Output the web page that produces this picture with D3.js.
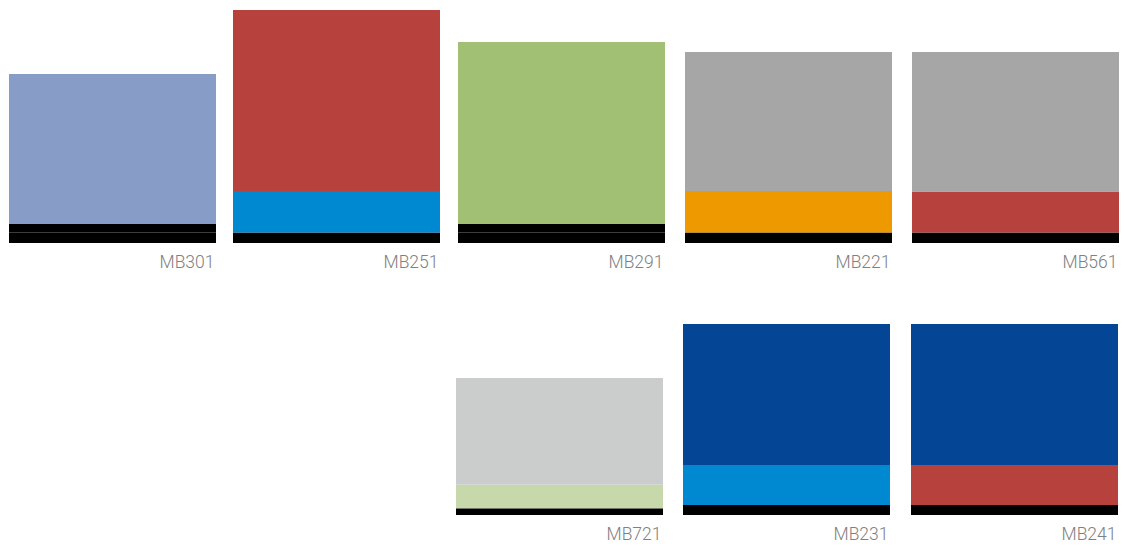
<!DOCTYPE html>
<html>
<head>
<meta charset="utf-8">
<script src="https://cdn.jsdelivr.net/npm/d3@7"></script>
<style>
  html, body { margin: 0; padding: 0; background: #fff; }
  .label { font-family: Roboto, "Noto Sans", sans-serif; font-weight: 300; font-size: 17.5px; fill: #808080; }
</style>
</head>
<body>
<div class="chart"></div>
<script>
// data
var products = ["MB301", "MB251", "MB291", "MB221", "MB561", "MB721", "MB231", "MB241"];
var baseValues = [10.6, 10.5, 10.6, 10.5, 10.5, 6.7, 10, 10];
var midValues = [8.4, 41.5, 8.4, 41.5, 41, 23.6, 40, 40];
var topValues = [150, 181, 182, 139, 139.5, 106.7, 141, 141];
var baseColors = ["#000", "#000", "#000", "#000", "#000", "#000", "#000", "#000"];
var midColors = ["#000", "#0088d1", "#000", "#ee9900", "#b7413d", "#c7d8aa", "#0088d1", "#b7413d"];
var topColors = ["#889cc8", "#b7413d", "#a2c074", "#a6a6a6", "#a6a6a6", "#cbcdcc", "#044695", "#044695"];
// grid placement of each panel
var rowOf = [0, 0, 0, 0, 0, 1, 1, 1];
var colOf = [0, 1, 2, 3, 4, 2, 3, 4];

var width = 1125;
var height = 547;
var panelW = 207;

var svg = d3.select(".chart").append("svg")
  .attr("width", width)
  .attr("height", height);

// x position of each column, per row
var xTop = d3.scaleOrdinal().domain([0, 1, 2, 3, 4]).range([9, 233, 458, 685, 912]);
var xBottom = d3.scaleOrdinal().domain([2, 3, 4]).range([456, 683, 911]);
// baseline of each row
var rowBase = d3.scaleOrdinal().domain([0, 1]).range([243, 515]);
// value -> pixel height
var hScale = d3.scaleLinear().domain([0, 250]).range([0, 250]);

var data = products.map(function (p, i) {
  var vals = [baseValues[i], midValues[i], topValues[i]];
  var cols = [baseColors[i], midColors[i], topColors[i]];
  var acc = 0;
  var segs = vals.map(function (v, k) {
    var s = { y0: acc, y1: acc + v, color: cols[k] };
    acc += v;
    return s;
  });
  return { name: p, row: rowOf[i], col: colOf[i], segs: segs };
});

var panels = svg.selectAll("g.panel")
  .data(data)
  .enter()
  .append("g")
  .attr("class", "panel")
  .attr("transform", function (d) {
    var x = d.row === 0 ? xTop(d.col) : xBottom(d.col);
    return "translate(" + x + "," + rowBase(d.row) + ")";
  });

panels.selectAll("rect")
  .data(function (d) { return d.segs; })
  .enter()
  .append("rect")
  .attr("x", 0)
  .attr("width", panelW)
  .attr("y", function (d) { return -hScale(d.y1); })
  .attr("height", function (d) { return hScale(d.y1) - hScale(d.y0); })
  .attr("fill", function (d) { return d.color; });

panels.append("text")
  .attr("class", "label")
  .attr("x", panelW - 1.5)
  .attr("y", 24.5)
  .attr("text-anchor", "end")
  .text(function (d) { return d.name; });
</script>
</body>
</html>
